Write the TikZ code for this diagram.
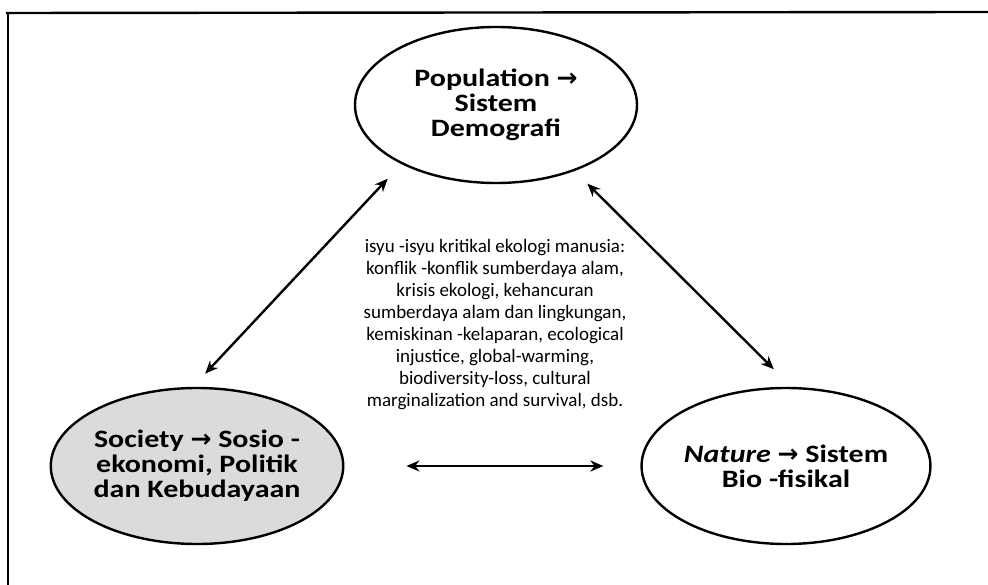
\documentclass[tikz,border=0pt]{standalone}
\usepackage{fontspec}
\setmainfont{Carlito}
\newfontfamily\widefont[FakeStretch=1.2]{Carlito}
\newfontfamily\arrowfont{DejaVu Sans}
\usetikzlibrary{shapes.geometric,arrows.meta}
\newcommand{\ra}{{\arrowfont\bfseries →}}
\begin{document}
\begin{tikzpicture}[x=1pt,y=-1pt,
  bubble/.style={ellipse, draw, line width=2.4pt, inner sep=0pt, align=center,
    font=\widefont\fontsize{25}{25}\selectfont\bfseries},
  link/.style={{Stealth[length=13pt,width=11pt]}-{Stealth[length=13pt,width=11pt]}, line width=2.4pt}]
\useasboundingbox (0,0) rectangle (988,585);
% frame
\draw[line width=2.4pt] (988,12) -- (6,13);
\draw[line width=1.4pt] (8,13) -- (8,585);

\node[bubble, minimum width=282pt, minimum height=156pt] (Pop) at (496,105) {Population \ra\\Sistem\\Demografi};
\node[bubble, fill=black!14, minimum width=266pt, minimum height=156pt] (Soc) at (197,466) {Society \ra\ Sosio -\\ekonomi, Politik\\dan Kebudayaan};
\node[bubble, minimum width=288pt, minimum height=156pt] (Nat) at (786,466) {\textit{Nature} \ra\ Sistem\\Bio -fisikal};

% the issues
\node[align=center, font=\fontsize{19}{22}\selectfont] (Isu) at (495,325)
  {isyu -isyu kritikal ekologi manusia:\\konflik -konflik sumberdaya alam,\\krisis ekologi, kehancuran\\sumberdaya alam dan lingkungan,\\kemiskinan -kelaparan, ecological\\injustice, global-warming,\\biodiversity-loss, cultural\\marginalization and survival, dsb.};

\draw[link, shorten <=20pt, shorten >=18pt] (Pop.212) -- (Soc.93);
\draw[link, shorten <=18pt, shorten >=25pt] (Pop.320) -- (Nat.86);
\draw[link, shorten <=62pt, shorten >=37pt] (Soc.east) -- (Nat.west);
\end{tikzpicture}
\end{document}
